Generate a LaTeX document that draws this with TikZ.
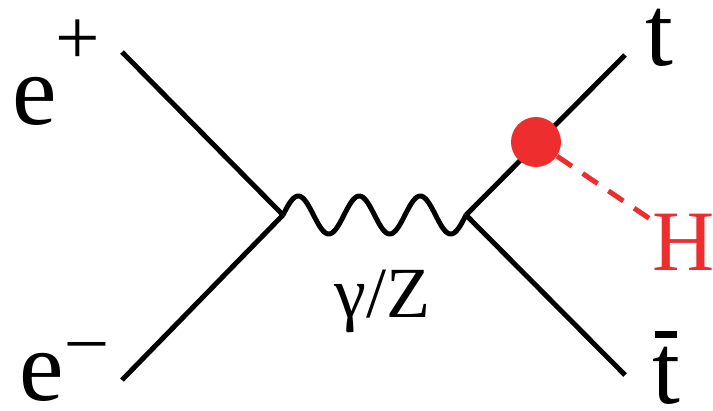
\documentclass[tikz,border=0pt]{standalone}
\usepackage{fontspec}
\setmainfont{Liberation Serif}
\definecolor{higgsred}{RGB}{237,45,46}

\begin{document}
\begin{tikzpicture}[
  x=0.02cm, y=-0.02cm,
  fermion/.style={line width=0.1cm},
  boson/.style={line width=0.1cm, line join=round},
  higgsline/.style={line width=0.1cm, higgsred, dash pattern=on 0.36cm off 0.26cm},
  bigfont/.style={font=\fontsize{57}{57}\selectfont, inner sep=0pt, anchor=base west},
  higgsdot/.style={circle, fill=higgsred, minimum size=1cm, inner sep=0pt}
]
\useasboundingbox (0,0) rectangle (713,410);

% Vertices and free ends
\coordinate (v1) at (283,215);
\coordinate (v2) at (466,215);
\coordinate (ep) at (122,52);
\coordinate (em) at (122,380);
\coordinate (tq) at (625,55);
\coordinate (tbq) at (625,375);

% Lines
\draw[fermion] (ep) -- (v1);
\draw[fermion] (v1) -- (em);
\draw[fermion] (v2) -- (tq);
\draw[fermion] (v2) -- (tbq);
% photon/Z: three periods from v1 to v2
\draw[boson, shift={(v1)}] plot[domain=0:1080, samples=120, smooth] ({\x/5.9016}, {-19*sin(\x)});

% Higgs radiation
\node[higgsdot] (dot) at (536,142) {};
\node[bigfont, font=\fontsize{49}{49}\selectfont, text=higgsred, inner sep=2pt] (H) at (649,270) {H};
\draw[higgsline] (dot) -- (H);

% Labels
\node[bigfont] (lep) at (12,124) {e\kern-0.02cm\raisebox{1.2cm}{\fontsize{45}{45}\selectfont +}};
\node[bigfont] (lem) at (19,400) {e\kern0.1cm\raisebox{0.78cm}{\fontsize{42}{42}\selectfont –}};
\node[bigfont] (lt) at (645,65) {t};
\node[bigfont] (ltb) at (652,403) {\makebox[0pt][l]{\kern0.06cm\raisebox{1.3cm}{\rule{0.44cm}{0.14cm}}}t};
\node[bigfont, font=\fontsize{41}{41}\selectfont] (lgz) at (334,317) {γ/Z};
\end{tikzpicture}
\end{document}
